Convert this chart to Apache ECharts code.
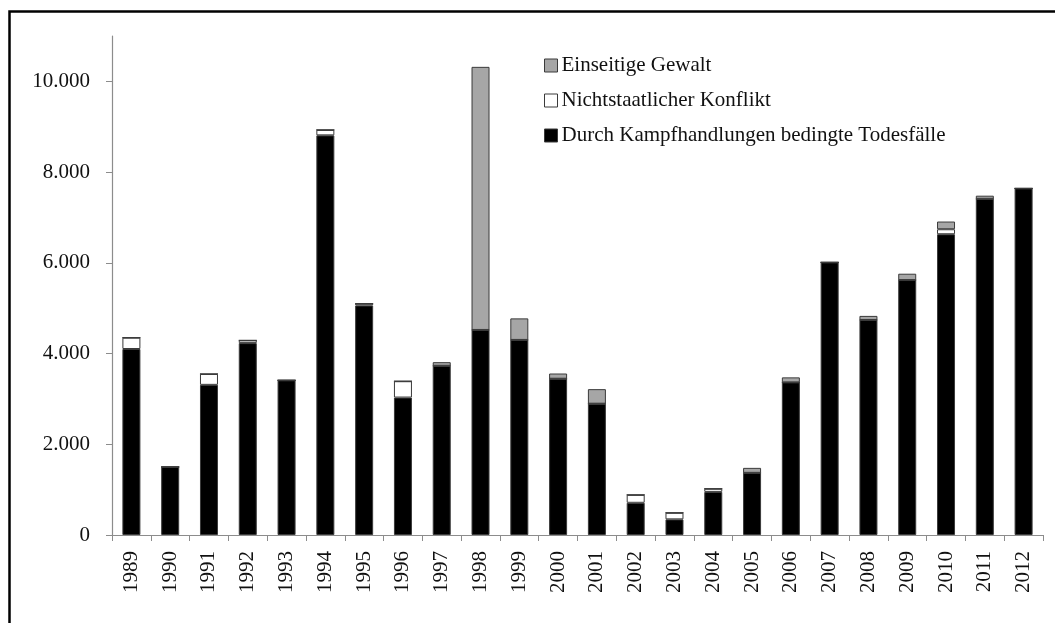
<!DOCTYPE html>
<html>
<head>
<meta charset="utf-8">
<script src="https://cdn.jsdelivr.net/npm/echarts@6/dist/echarts.min.js"></script>
<style>
html,body{margin:0;padding:0;background:#fff;}
#chart{width:1055px;height:623px;}
</style>
</head>
<body>
<div id="chart"></div>
<script>
const years = ['1989','1990','1991','1992','1993','1994','1995','1996','1997','1998','1999','2000','2001','2002','2003','2004','2005','2006','2007','2008','2009','2010','2011','2012'];
const battleDeaths = [4100,1500,3310,4230,3410,8810,5060,3030,3730,4520,4300,3445,2895,710,345,950,1370,3365,6010,4740,5620,6630,7410,7640];
const nonState =     [250,0,240,60,0,120,40,360,0,0,0,0,0,175,145,70,0,0,0,0,0,110,0,0];
const oneSided =     [0,0,0,0,0,0,0,0,80,5800,475,115,320,0,0,0,110,110,0,90,140,170,70,0];
const yTicks = [0,2000,4000,6000,8000,10000];
const seriesNames = ['Durch Kampfhandlungen bedingte Todesfälle','Nichtstaatlicher Konflikt','Einseitige Gewalt'];

const font = 'Liberation Serif';
const chart = echarts.init(document.getElementById('chart'), null, {renderer:'canvas'});
function bar(name, data, color){
  return {
    name: name, type: 'bar', stack: 'total', data: data, barWidth: 18,
    itemStyle: {color: color, borderColor: '#3a3a3a', borderWidth: 1},
    emphasis: {disabled: true}
  };
}
chart.setOption({
  animation: false,
  backgroundColor: '#fff',
  graphic: [{
    type: 'rect', left: 7, top: 9,
    shape: {x: 0, y: 0, width: 1200, height: 800},
    style: {fill: 'none', stroke: '#000', lineWidth: 2.5},
    silent: true
  }],
  grid: {left: 112, right: 12, top: 36, bottom: 88},
  legend: {
    orient: 'vertical', left: 539, top: 50,
    icon: 'rect',
    itemWidth: 13, itemHeight: 13, itemGap: 14,
    data: [seriesNames[2], seriesNames[1], seriesNames[0]],
    textStyle: {fontFamily: font, fontSize: 21, color: '#111', lineHeight: 20, padding: [0,0,0,-1]},
    itemStyle: {borderColor: '#3a3a3a', borderWidth: 1},
    selectedMode: false
  },
  xAxis: {
    type: 'category', data: years,
    axisLine: {lineStyle: {color: '#8c8c8c', width: 1.2}},
    axisTick: {show: true, alignWithLabel: false, length: 6, lineStyle: {color: '#8c8c8c'}},
    axisLabel: {rotate: 90, margin: 16, interval: 0, fontFamily: font, fontSize: 21, color: '#111'}
  },
  yAxis: {
    type: 'value', min: 0, max: 11000,
    splitLine: {show: false},
    axisLine: {show: true, lineStyle: {color: '#8c8c8c', width: 1.2}},
    axisTick: {show: true, length: 6, lineStyle: {color: '#8c8c8c'}, customValues: yTicks},
    axisLabel: {
      margin: 22, fontFamily: font, fontSize: 21, color: '#111',
      customValues: yTicks,
      formatter: v => v === 0 ? '0' : (v/1000).toFixed(0) + '.000'
    }
  },
  series: [
    bar(seriesNames[0], battleDeaths, '#000000'),
    bar(seriesNames[1], nonState, '#ffffff'),
    bar(seriesNames[2], oneSided, '#a6a6a6')
  ]
});
</script>
</body>
</html>
